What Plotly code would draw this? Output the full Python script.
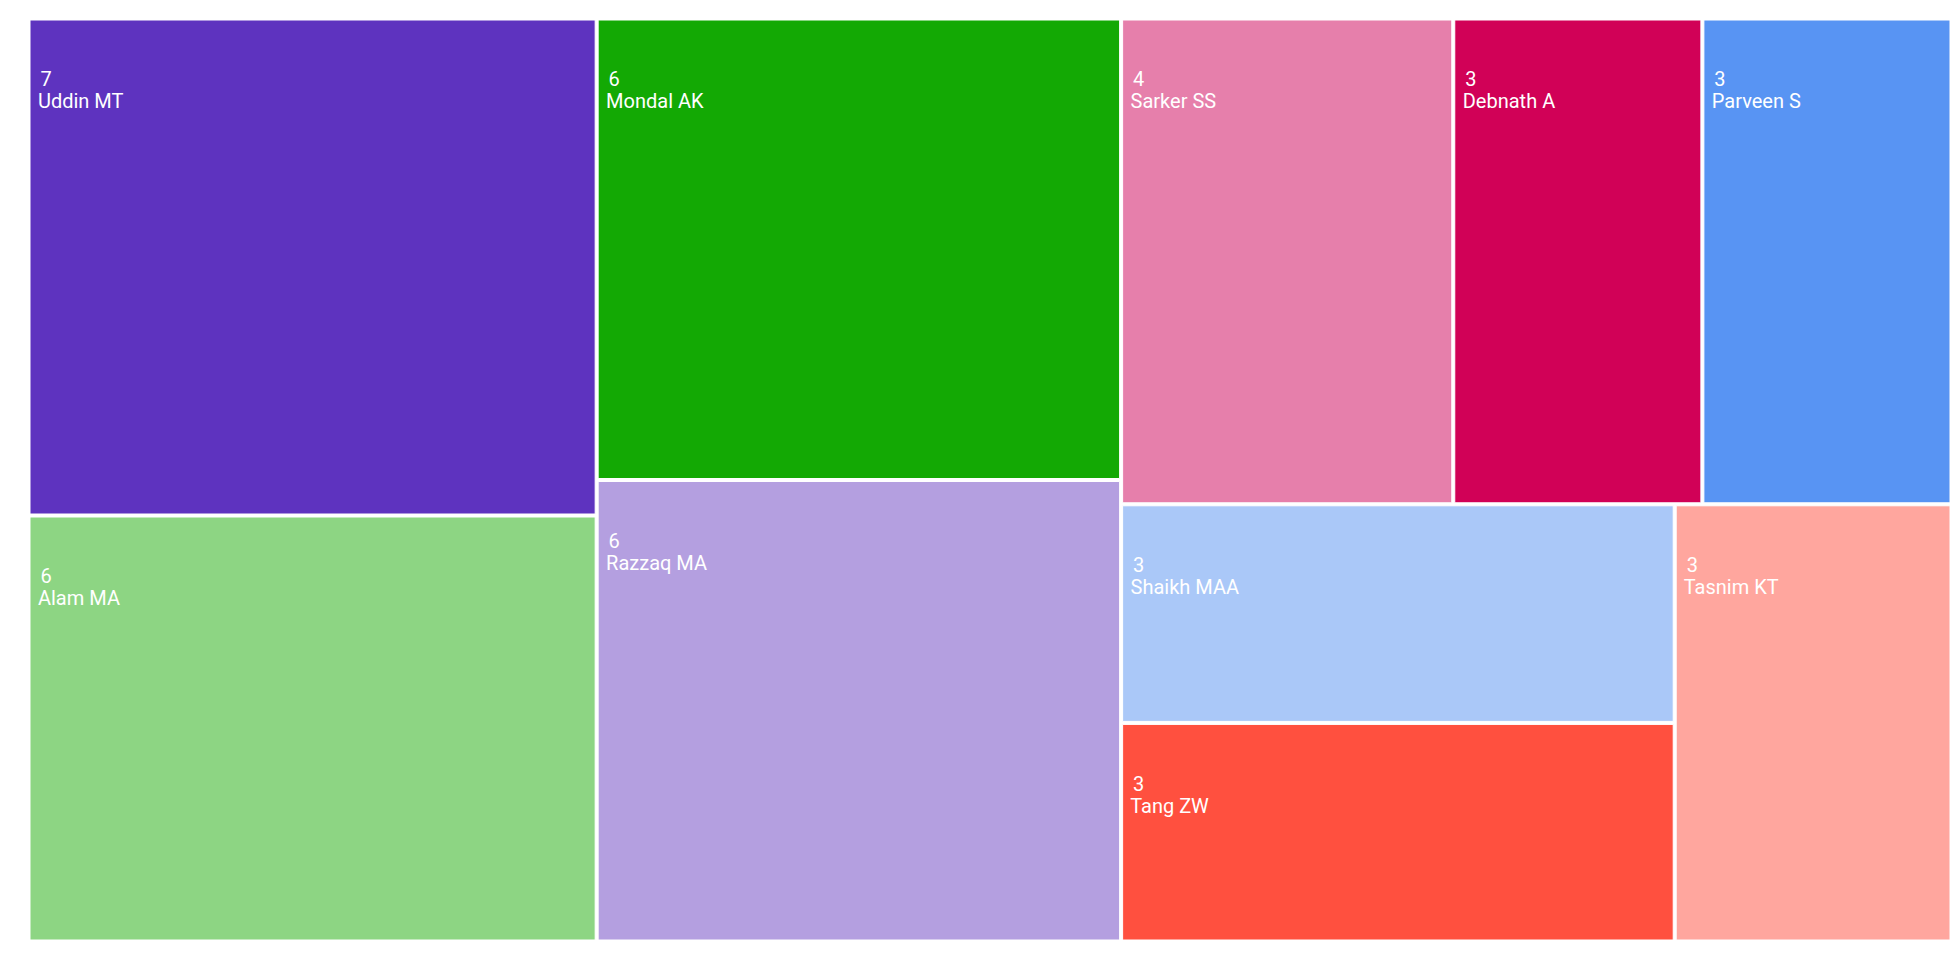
import plotly.graph_objects as go

authors = ["Uddin MT", "Alam MA", "Mondal AK", "Razzaq MA", "Sarker SS",
           "Debnath A", "Parveen S", "Shaikh MAA", "Tang ZW", "Tasnim KT"]
counts = [7, 6, 6, 6, 4, 3, 3, 3, 3, 3]
colors = ["#5E33BF", "#8DD583", "#13A904", "#B49FE0", "#E67FAB",
          "#D10157", "#5894F3", "#AAC8F8", "#FF503F", "#FFA69E"]

# glyphs at 20px, line spacing taken from the 17px base font
big = "<span style='font-size:20px'>{}</span>"
template = ("<span style='font-size:21px'>&nbsp;</span><br>&nbsp;<br>"
            + "<span style='font-size:10px'> </span>" + big.format(" %{value}")
            + "<br>" + big.format(" %{label}"))

fig = go.Figure(go.Treemap(
    labels=authors,
    parents=[""] * len(authors),
    values=counts,
    marker=dict(colors=colors, pad=dict(t=0, l=0, r=0, b=0)),
    pathbar=dict(visible=False),
    tiling=dict(squarifyratio=1.618),
    texttemplate=template,
    textposition="top left",
    textfont=dict(color="white", size=17),
    hoverinfo="label+value",
))

# page body adds 8px offset, so margins are shifted to compensate
fig.update_layout(
    width=1960,
    height=960,
    font=dict(family="Roboto", size=17),
    margin=dict(l=22, r=18, t=12, b=28),
    paper_bgcolor="white",
)

fig.write_html("out.html")
